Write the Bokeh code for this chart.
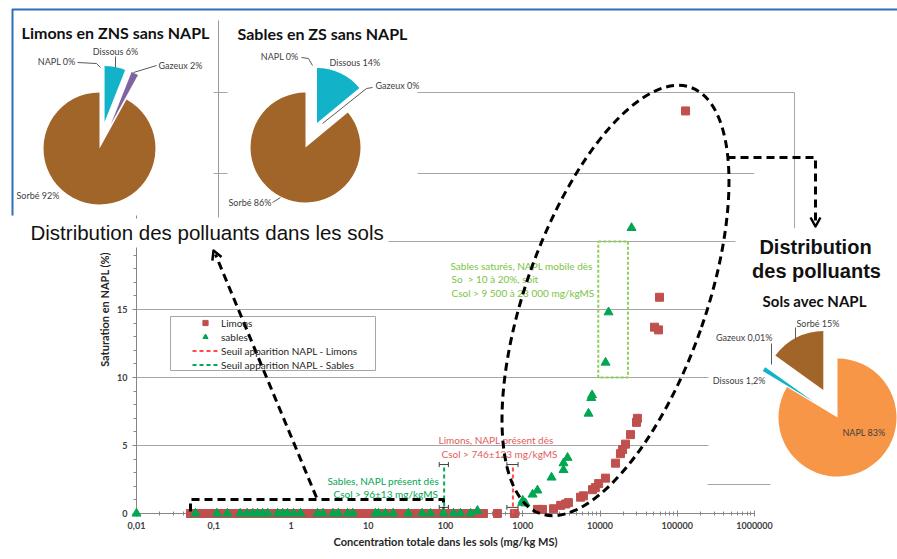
import math
from bokeh.plotting import figure
from bokeh.models import (Range1d, LinearScale, FixedTicker, SingleIntervalTicker,
                          CustomJSTickFormatter, ColumnDataSource, Whisker, TeeHead,
                          Legend, LegendItem)
from bokeh.core.properties import value
from bokeh.embed import file_html
from bokeh.resources import INLINE

# ---------------- data ----------------
# Limons: samples without NAPL (saturation 0)
limons_conc_zero = [0.05, 0.06, 0.075, 0.09, 0.11, 0.13, 0.16, 0.2, 0.24, 0.3, 0.36, 0.45,
                    0.55, 0.66, 0.8, 1, 1.2, 1.5, 1.8, 2.2, 2.7, 3.3, 4, 5, 6, 7.5, 9, 11,
                    13, 16, 20, 24, 30, 36, 45, 55, 66, 80, 100, 120, 150, 180, 220, 270,
                    310, 470, 780]
# Limons: samples with NAPL
limons_conc = [1550, 1800, 2500, 3100, 3600, 3900, 5600, 6100, 8000, 8700, 9600, 11800,
               15900, 18400, 19600, 21400, 24800, 29700, 30500, 50800, 57200, 58900, 128000]
limons_sat = [0.3, 0.3, 0.35, 0.6, 0.7, 0.8, 1.2, 1.3, 1.75, 1.9, 2.2, 2.6,
              3.7, 4.4, 4.7, 5.1, 5.8, 6.7, 7.0, 13.7, 13.5, 15.9, 29.6]

# Sables: samples without NAPL
sables_conc_zero = [0.01, 0.058, 0.11, 0.15, 0.22, 0.27, 0.32, 0.37, 0.43, 0.5, 0.67, 0.78,
                    0.9, 1.08, 1.33, 2.2, 2.6, 3.5, 4.1, 5.4, 6.3, 12.4, 13.6, 16.7, 21, 33,
                    50, 64, 94, 127, 156, 211]
# Sables: samples with NAPL
sables_conc = [259, 990, 1000, 1085, 1340, 1550, 2360, 3370, 3370, 3800, 7100, 7700, 7900,
               11800, 12900, 25600]
sables_sat = [0.2, 0.8, 0.95, 0.75, 1.4, 1.7, 2.65, 3.2, 3.7, 4.1, 7.35, 8.5, 8.7,
              11.1, 14.8, 21.0]

# NAPL appearance thresholds (mg/kg MS)
seuil_limons, seuil_limons_err = 746, 123
seuil_sables, seuil_sables_err = 96, 13
seuil_sat_top, seuil_sat_low = 3.6, 0.45

# Mobile NAPL window for saturated sands
mobile_conc = [9500, 23000]
mobile_sat = [10, 20]

# Distribution of the pollutant between phases (%)
phase_names = ["NAPL", "Dissous", "Gazeux", "Sorbé"]
pie_limons_zns = [0, 6, 2, 92]
pie_sables_zs = [0, 14, 0, 86]
pie_sols_napl = [83, 1.2, 0.01, 15]

x_ticks = [0.01, 0.1, 1, 10, 100, 1000, 10000, 100000, 1000000]
x_tick_labels = ["0,01", "0,1", "1", "10", "100", "1000", "10000", "100000", "1000000"]

# ---------------- styles ----------------
W, H = 897, 559
FL, FR, FT, FB = 136, 754, 105, 513
RED = "#C0504D"
GREEN = "#00A651"
LIGHT_GREEN = "#7DC243"
TXT_RED = "#E25B5B"
BROWN = "#A1652A"
CYAN = "#12B3C8"
PURPLE = "#8064A2"
ORANGE = "#F79646"
GRID = "#A6A6A6"
FONT = "Lato"
phase_colors = [ORANGE, CYAN, PURPLE, BROWN]


def fr(v):
    return f"{v:g}".replace(".", ",")


def thousands(v):
    return f"{v:,}".replace(",", " ")


p = figure(width=W, height=H, x_axis_type="log", x_range=Range1d(0.01, 1e6),
           y_range=Range1d(0, 30), output_backend="svg", toolbar_location=None,
           min_border_left=FL, min_border_right=W - FR, min_border_top=FT,
           min_border_bottom=H - FB)
p.outline_line_color = None
p.background_fill_color = "white"
p.border_fill_color = "white"

# pixel-like coordinate system for the page decorations (y measured from the bottom)
p.extra_x_ranges = {"px": Range1d(FL, FR)}
p.extra_y_ranges = {"py": Range1d(H - FB, H - FT)}
p.extra_x_scales = {"px": LinearScale()}
p.extra_y_scales = {"py": LinearScale()}
PX = dict(x_range_name="px", y_range_name="py")


def cy(y):
    return H - y


def ov(r):
    r.level = "overlay"
    return r


# ---------------- axes ----------------
xa = p.xaxis[0]
minor = [m * 10 ** e for e in range(-2, 6) for m in range(2, 10)]
xa.ticker = FixedTicker(ticks=x_ticks, minor_ticks=minor)
xa.formatter = CustomJSTickFormatter(args=dict(vals=x_ticks, labs=x_tick_labels),
                                     code="const i = vals.indexOf(tick); return i >= 0 ? labs[i] : '';")
xa.major_tick_in, xa.major_tick_out = 3, 3
xa.minor_tick_in, xa.minor_tick_out = 2, 2
xa.major_label_standoff = 5
xa.axis_label = "Concentration totale dans les sols (mg/kg MS)"
xa.axis_label_standoff = 3
xa.axis_label_text_font_size = "11px"

ya = p.yaxis[0]
ya.ticker = SingleIntervalTicker(interval=5, num_minor_ticks=5)
ya.major_tick_in, ya.major_tick_out = 0, 4
ya.minor_tick_in, ya.minor_tick_out = 0, 3
ya.major_label_standoff = 5
ya.axis_label = "Saturation en NAPL (%)"
ya.axis_label_standoff = 3
ya.axis_label_text_font_size = "11px"

for ax in (xa, ya):
    ax.axis_line_color = "#868686"
    ax.major_tick_line_color = "#868686"
    ax.minor_tick_line_color = "#868686"
    ax.major_label_text_font = FONT
    ax.major_label_text_font_size = "9px"
    ax.major_label_text_font_style = "bold"
    ax.major_label_text_color = "#404040"
    ax.axis_label_text_font = FONT
    ax.axis_label_text_font_style = "bold"
    ax.axis_label_text_color = "#262626"

p.xgrid.grid_line_color = None
p.ygrid.grid_line_color = GRID

# ---------------- data glyphs (drawn unclipped so markers on the axis stay whole) ----------------
lim_src = ColumnDataSource(dict(x=limons_conc_zero + limons_conc,
                                y=[0] * len(limons_conc_zero) + limons_sat))
sab_src = ColumnDataSource(dict(x=sables_conc_zero + sables_conc,
                                y=[0] * len(sables_conc_zero) + sables_sat))
r_lim = ov(p.scatter("x", "y", source=lim_src, marker="square", size=8,
                     fill_color=RED, line_color=RED))
r_sab = ov(p.scatter("x", "y", source=sab_src, marker="triangle", size=9,
                     fill_color=GREEN, line_color=GREEN))

r_seuil_lim = ov(p.line([seuil_limons, seuil_limons], [0, seuil_sat_top], line_color="#FF4B4B",
                        line_width=2, line_dash="4 3"))
r_seuil_sab = ov(p.line([seuil_sables, seuil_sables], [0, seuil_sat_top], line_color="#00B050",
                        line_width=2, line_dash="4 3"))

wsrc = ColumnDataSource(dict(
    base=[seuil_sat_top, seuil_sat_low, seuil_sat_top, seuil_sat_low],
    lower=[seuil_limons - seuil_limons_err] * 2 + [seuil_sables - seuil_sables_err] * 2,
    upper=[seuil_limons + seuil_limons_err] * 2 + [seuil_sables + seuil_sables_err] * 2))
p.add_layout(Whisker(source=wsrc, base="base", lower="lower", upper="upper", dimension="width",
                     line_color="#404040", line_width=1,
                     upper_head=TeeHead(size=5, line_color="#404040", line_width=1),
                     lower_head=TeeHead(size=5, line_color="#404040", line_width=1)))

p.quad(left=[mobile_conc[0]], right=[mobile_conc[1]], bottom=[mobile_sat[0]], top=[mobile_sat[1]],
       fill_color=None, line_color="#8ED05A", line_width=2, line_dash="3 2")

legend = Legend(items=[LegendItem(label="Limons", renderers=[r_lim]),
                       LegendItem(label="sables", renderers=[r_sab]),
                       LegendItem(label="Seuil apparition NAPL - Limons", renderers=[r_seuil_lim]),
                       LegendItem(label="Seuil apparition NAPL - Sables", renderers=[r_seuil_sab])],
                location=(56, 142), padding=0, margin=0, spacing=1, glyph_width=26,
                glyph_height=13, label_height=13, label_standoff=3,
                label_text_font=FONT, label_text_font_size="10px", label_text_color="#262626",
                border_line_color=None, background_fill_alpha=0)
p.add_layout(legend)


# ---------------- page decorations ----------------
def poly(pts, color, width, dash="solid"):
    ov(p.line([q[0] for q in pts], [cy(q[1]) for q in pts], line_color=color,
              line_width=width, line_dash=dash, line_join="round", **PX))


def box(l, r, t, b, color="white"):
    ov(p.quad(left=[l], right=[r], top=[cy(t)], bottom=[cy(b)], fill_color=color,
              line_color=None, **PX))


def txt(x, y, s, size, color="#404040", style="normal", font=FONT, align="left"):
    ov(p.text(x=[x], y=[cy(y)], text=[s], text_font=value(font), text_font_size=size,
              text_color=color, text_font_style=style, text_align=align,
              text_baseline="middle", **PX))


def v_head(tip, back, size=9, spread=0.55):
    dx, dy = tip[0] - back[0], tip[1] - back[1]
    L = math.hypot(dx, dy)
    ux, uy = dx / L, dy / L
    nx, ny = -uy, ux
    return [(tip[0] - size * ux + size * spread * nx, tip[1] - size * uy + size * spread * ny),
            tip,
            (tip[0] - size * ux - size * spread * nx, tip[1] - size * uy - size * spread * ny)]


# chart area border
poly([(FL, 92), (794, 92), (794, 228)], GRID, 1)

# white panels of the inserted pie charts and caption
box(13, 213, 9, 215)
box(227, 417, 12, 215)
box(25, 388, 218, 247)
box(735, 897, 228, 300)
box(708, 897, 300, 499)
poly([(707, 484), (770, 484)], GRID, 1)
poly([(218, 20), (218, 217)], "#9A9A9A", 1)
poly([(12, 215), (12, 9), (897, 9)], "#2F6EBA", 2)


def draw_pie(cx, cyy, radius, values, explode):
    total = sum(values)
    start = 0.0
    for v, c, e in zip(values, phase_colors, explode):
        end = start + v / total * 2 * math.pi
        if v > 0:
            mid = (start + end) / 2
            ov(p.wedge(x=[cx + e * math.sin(mid)], y=[cy(cyy) + e * math.cos(mid)],
                       radius=radius, radius_units="screen",
                       start_angle=math.pi / 2 - start, end_angle=math.pi / 2 - end,
                       direction="clock", fill_color=c, line_color=None, **PX))
        start = end


def pie_labels(values, places, leaders):
    for name, v, (x, y, al), lead in zip(phase_names, values, places, leaders):
        if lead:
            poly(lead, "#595959", 1)
        txt(x, y, f"{name} {fr(v)}%", "9px", "#404040", align=al)


# Limons en ZNS sans NAPL
txt(115, 32, "Limons en ZNS sans NAPL", "16px", "#111111", "bold", align="center")
draw_pie(99, 148, 56, pie_limons_zns, [27, 27, 27, 0])
pie_labels(pie_limons_zns,
           [(75, 61, "right"), (115, 51, "center"), (158, 65, "left"), (16, 195, "left")],
           [[(77, 62), (96, 63), (100, 67)], [(115, 56), (115, 67)], [(156, 65), (133, 72)], None])

# Sables en ZS sans NAPL
txt(322, 33, "Sables en ZS sans NAPL", "16px", "#111111", "bold", align="center")
draw_pie(305, 147, 55, pie_sables_zs, [27, 27, 27, 0])
pie_labels(pie_sables_zs,
           [(298, 56, "right"), (329, 62, "left"), (375, 85, "left"), (228, 202, "left")],
           [[(301, 57), (308, 58), (312, 65)], None, [(372, 87), (366, 88), (322, 123)],
            [(272, 202), (280, 197)]])

# Sols avec NAPL
txt(815, 246, "Distribution", "20px", "#111111", "bold", "Liberation Sans", "center")
txt(816, 270, "des polluants", "20px", "#111111", "bold", "Liberation Sans", "center")
txt(814, 300, "Sols avec NAPL", "15px", "#111111", "bold", align="center")
draw_pie(837, 417, 59, pie_sols_napl, [0, 29, 29, 31])
pie_labels(pie_sols_napl,
           [(842, 432, "left"), (765, 380, "right"), (772, 337, "right"), (796, 323, "left")],
           [None, None, [(771, 343), (771, 364)], [(795, 327), (795, 339)]])

txt(30, 232, "Distribution des polluants dans les sols", "20.5px", "#111111",
    font="Liberation Sans")

# legend frame
poly([(170, 316), (375, 316), (375, 370), (170, 370), (170, 316)], GRID, 1)

# chart annotations
txt(450, 265, "Sables saturés, NAPL mobile dès", "10px", LIGHT_GREEN)
txt(451, 278, f"So\u00a0 > {mobile_sat[0]} à {mobile_sat[1]}%, soit", "10px", LIGHT_GREEN)
txt(451, 292, f"Csol > {thousands(mobile_conc[0])} à {thousands(mobile_conc[1])} mg/kgMS",
    "10px", LIGHT_GREEN)
txt(438, 439, "Limons, NAPL présent dès", "10px", TXT_RED)
txt(441, 453, f"Csol > {seuil_limons}±{seuil_limons_err} mg/kgMS", "10px", TXT_RED)
txt(327, 480, "Sables, NAPL présent dès", "10px", GREEN)
txt(333, 493, f"Csol > {seuil_sables}±{seuil_sables_err} mg/kgMS", "10px", GREEN)

# black dashed highlights
ov(p.ellipse(x=[615], y=[cy(300)], width=[180], height=[452], width_units="screen",
             height_units="screen", angle=-0.34, fill_color=None, line_color="black",
             line_width=3, line_dash="8 5", **PX))
poly([(190, 511), (190, 499), (443, 499), (443, 508)], "black", 3, "8 5")
poly([(316, 497), (215, 254)], "black", 3, "8 5")
poly(v_head((213, 250), (316, 497)), "black", 2.5)
poly([(727, 157), (815, 157), (815, 222)], "black", 3, "8 5")
poly(v_head((815, 226), (815, 157)), "black", 2.5)

open("out.html", "w").write(file_html(p, INLINE))
